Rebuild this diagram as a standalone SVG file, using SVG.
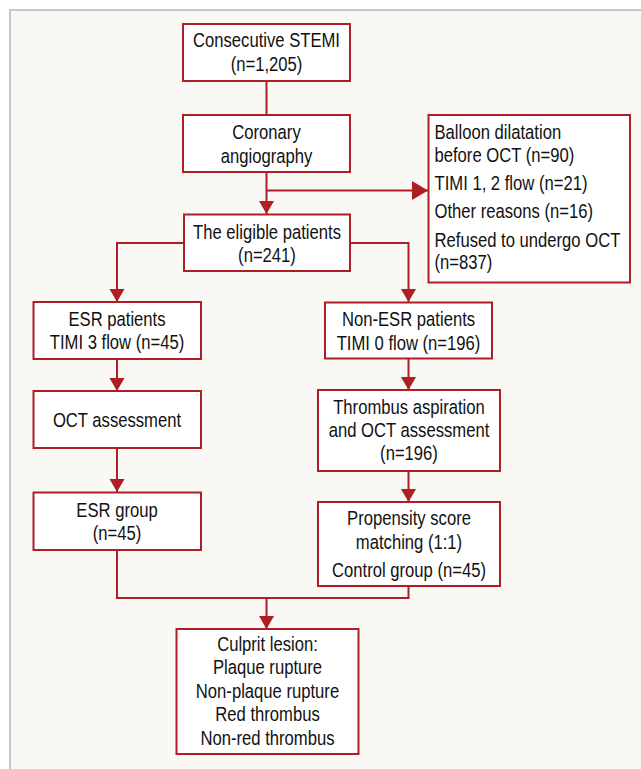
<svg xmlns="http://www.w3.org/2000/svg" width="641" height="769" viewBox="0 0 641 769">
<defs>
<style>
.box{fill:#ffffff;stroke:#ad1f24;stroke-width:2}
.con{fill:none;stroke:#ad1f24;stroke-width:2}
text{font-family:"Liberation Sans",Arial,sans-serif;font-size:20.3px;fill:#111111}
.c text{text-anchor:middle}
</style>
<marker id="ad" markerUnits="userSpaceOnUse" markerWidth="16" markerHeight="16" viewBox="0 0 14 16" refX="13" refY="8" orient="auto">
<polygon points="0,0.5 13,8 0,15.5" fill="#ad1f24"/>
</marker>
<marker id="ar" markerUnits="userSpaceOnUse" markerWidth="18" markerHeight="20" viewBox="0 0 17 20" refX="16" refY="10" orient="auto">
<polygon points="0,0.5 16,10 0,19.5" fill="#ad1f24"/>
</marker>
</defs>
<rect x="0" y="0" width="641" height="769" fill="#ffffff"/>
<rect x="10" y="10" width="640" height="770" fill="#f9f8f5" stroke="#c8c8c8" stroke-width="2"/>

<g id="connectors">
<path class="con" d="M266.5,81 V115"/>
<path class="con" d="M266.5,172 V214" marker-end="url(#ad)"/>
<path class="con" d="M266.5,190.5 H428" marker-end="url(#ar)"/>
<path class="con" d="M184,243 H117 V302" marker-end="url(#ad)"/>
<path class="con" d="M350,243 H408.5 V302" marker-end="url(#ad)"/>
<path class="con" d="M117,359 V391" marker-end="url(#ad)"/>
<path class="con" d="M117,448 V492" marker-end="url(#ad)"/>
<path class="con" d="M408.5,358 V390" marker-end="url(#ad)"/>
<path class="con" d="M408.5,471 V502" marker-end="url(#ad)"/>
<path class="con" d="M117,550 V598 H408.5 V586"/>
<path class="con" d="M266.5,598 V629" marker-end="url(#ad)"/>
</g>

<g id="stemi">
<rect class="box" x="183" y="24" width="167" height="57"/>
<g class="c" transform="translate(266.5,0) scale(0.82,1)">
<text x="0" y="47.5">Consecutive STEMI</text>
<text x="0" y="71.5">(n=1,205)</text>
</g>
</g>
<g id="angio">
<rect class="box" x="183" y="115" width="167" height="57"/>
<g class="c" transform="translate(266.5,0) scale(0.82,1)">
<text x="0" y="139.5">Coronary</text>
<text x="0" y="163.5">angiography</text>
</g>
</g>
<g id="excluded">
<rect class="box" x="428.5" y="115" width="201.5" height="167.5"/>
<g transform="translate(434.5,0) scale(0.82,1)">
<text x="0" y="139.5">Balloon dilatation</text>
<text x="0" y="162.5">before OCT (n=90)</text>
<text x="0" y="190.5">TIMI 1, 2 flow (n=21)</text>
<text x="0" y="218.5">Other reasons (n=16)</text>
<text x="0" y="247">Refused to undergo OCT</text>
<text x="0" y="269.5">(n=837)</text>
</g>
</g>
<g id="eligible">
<rect class="box" x="184" y="214.5" width="166" height="56.5"/>
<g class="c" transform="translate(267,0) scale(0.82,1)">
<text x="0" y="239.5">The eligible patients</text>
<text x="0" y="262.5">(n=241)</text>
</g>
</g>
<g id="esr">
<rect class="box" x="33.5" y="302" width="167.5" height="57"/>
<g class="c" transform="translate(117,0) scale(0.82,1)">
<text x="0" y="326">ESR patients</text>
<text x="0" y="349.5">TIMI 3 flow (n=45)</text>
</g>
</g>
<g id="oct">
<rect class="box" x="33.5" y="391" width="167.5" height="57"/>
<g class="c" transform="translate(117,0) scale(0.82,1)">
<text x="0" y="427">OCT assessment</text>
</g>
</g>
<g id="esrgroup">
<rect class="box" x="33.5" y="492.5" width="167.5" height="57.5"/>
<g class="c" transform="translate(117,0) scale(0.82,1)">
<text x="0" y="517">ESR group</text>
<text x="0" y="540.5">(n=45)</text>
</g>
</g>
<g id="nonesr">
<rect class="box" x="325" y="302.5" width="167" height="56"/>
<g class="c" transform="translate(408.5,0) scale(0.82,1)">
<text x="0" y="326">Non-ESR patients</text>
<text x="0" y="350">TIMI 0 flow (n=196)</text>
</g>
</g>
<g id="thrombus">
<rect class="box" x="318" y="390" width="182" height="81"/>
<g class="c" transform="translate(409,0) scale(0.82,1)">
<text x="0" y="414">Thrombus aspiration</text>
<text x="0" y="437.5">and OCT assessment</text>
<text x="0" y="460.5">(n=196)</text>
</g>
</g>
<g id="propensity">
<rect class="box" x="318" y="502" width="182" height="84"/>
<g class="c" transform="translate(409,0) scale(0.82,1)">
<text x="0" y="525.5">Propensity score</text>
<text x="0" y="549">matching (1:1)</text>
<text x="0" y="577.5">Control group (n=45)</text>
</g>
</g>
<g id="culprit">
<rect class="box" x="176.5" y="629" width="182" height="125"/>
<g class="c" transform="translate(267.5,0) scale(0.82,1)">
<text x="0" y="651">Culprit lesion:</text>
<text x="0" y="674.5">Plaque rupture</text>
<text x="0" y="698">Non-plaque rupture</text>
<text x="0" y="721.5">Red thrombus</text>
<text x="0" y="745">Non-red thrombus</text>
</g>
</g>
</svg>
